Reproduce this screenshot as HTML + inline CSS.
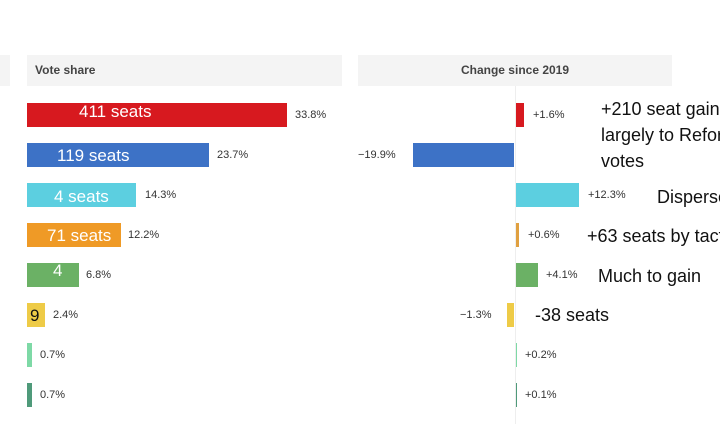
<!DOCTYPE html>
<html><head><meta charset="utf-8"><style>
body{margin:0;width:720px;height:424px;overflow:hidden;background:#fff;position:relative;font-family:"Liberation Sans",sans-serif}
div{position:absolute}
.h{background:#f4f4f4;height:31px;top:55px;font-size:12px;font-weight:bold;color:#444;line-height:31px}
.b{height:24px}
.p{font-size:11px;color:#333;line-height:24px}
.w{color:#fff;font-size:17px;line-height:24px}
.a{font-size:18px;color:#111;white-space:nowrap;line-height:24px}
</style></head><body>
<div class="h" style="left:0;width:10px"></div>
<div class="h" style="left:27px;width:315px;padding-left:8px;box-sizing:border-box">Vote share</div>
<div class="h" style="left:358px;width:314px;text-align:center">Change since 2019</div>
<div style="left:515px;top:86px;width:1px;height:338px;background:#eee"></div>

<div class="b" style="left:27px;top:103px;width:260px;background:#d7191f"></div>
<div class="w" style="left:79px;top:100px">411 seats</div>
<div class="p" style="left:295px;top:103px">33.8%</div>
<div class="b" style="left:27px;top:143px;width:182px;background:#3d72c6"></div>
<div class="w" style="left:57px;top:144px">119 seats</div>
<div class="p" style="left:217px;top:143px">23.7%</div>
<div class="b" style="left:27px;top:183px;width:109px;background:#5ccfe0"></div>
<div class="w" style="left:54px;top:185px">4 seats</div>
<div class="p" style="left:145px;top:183px">14.3%</div>
<div class="b" style="left:27px;top:223px;width:94px;background:#ef9a26"></div>
<div class="w" style="left:47px;top:224px">71 seats</div>
<div class="p" style="left:128px;top:223px">12.2%</div>
<div class="b" style="left:27px;top:263px;width:52px;background:#6bb165"></div>
<div class="w" style="left:53px;top:259px">4</div>
<div class="p" style="left:86px;top:263px">6.8%</div>
<div class="b" style="left:27px;top:303px;width:18px;background:#eecb47"></div>
<div class="w" style="left:30px;top:304px;color:#111">9</div>
<div class="p" style="left:53px;top:303px">2.4%</div>
<div class="b" style="left:27px;top:343px;width:5px;background:#7ed9a6"></div>
<div class="p" style="left:40px;top:343px">0.7%</div>
<div class="b" style="left:27px;top:383px;width:5px;background:#4f9a7a"></div>
<div class="p" style="left:40px;top:383px">0.7%</div>

<div class="b" style="left:516px;top:103px;width:8px;background:#d7191f"></div>
<div class="p" style="left:533px;top:103px">+1.6%</div>
<div class="b" style="left:413px;top:143px;width:101px;background:#3d72c6"></div>
<div class="p" style="left:358px;top:143px">−19.9%</div>
<div class="b" style="left:516px;top:183px;width:63px;background:#5ccfe0"></div>
<div class="p" style="left:588px;top:183px">+12.3%</div>
<div class="b" style="left:516px;top:223px;width:3px;background:#e0a040"></div>
<div class="p" style="left:528px;top:223px">+0.6%</div>
<div class="b" style="left:516px;top:263px;width:22px;background:#6bb165"></div>
<div class="p" style="left:546px;top:263px">+4.1%</div>
<div class="b" style="left:507px;top:303px;width:7px;background:#eecb47"></div>
<div class="p" style="left:460px;top:303px">−1.3%</div>
<div class="b" style="left:516px;top:343px;width:1px;background:#7ed9a6"></div>
<div class="p" style="left:525px;top:343px">+0.2%</div>
<div class="b" style="left:516px;top:383px;width:1px;background:#4f9a7a"></div>
<div class="p" style="left:525px;top:383px">+0.1%</div>

<div class="a" style="left:601px;top:97px">+210 seat gain</div>
<div class="a" style="left:601px;top:123px">largely to Reform</div>
<div class="a" style="left:601px;top:149px">votes</div>
<div class="a" style="left:657px;top:185px">Dispersed</div>
<div class="a" style="left:587px;top:224px">+63 seats by tactical</div>
<div class="a" style="left:598px;top:264px">Much to gain</div>
<div class="a" style="left:535px;top:303px">-38 seats</div>
</body></html>
